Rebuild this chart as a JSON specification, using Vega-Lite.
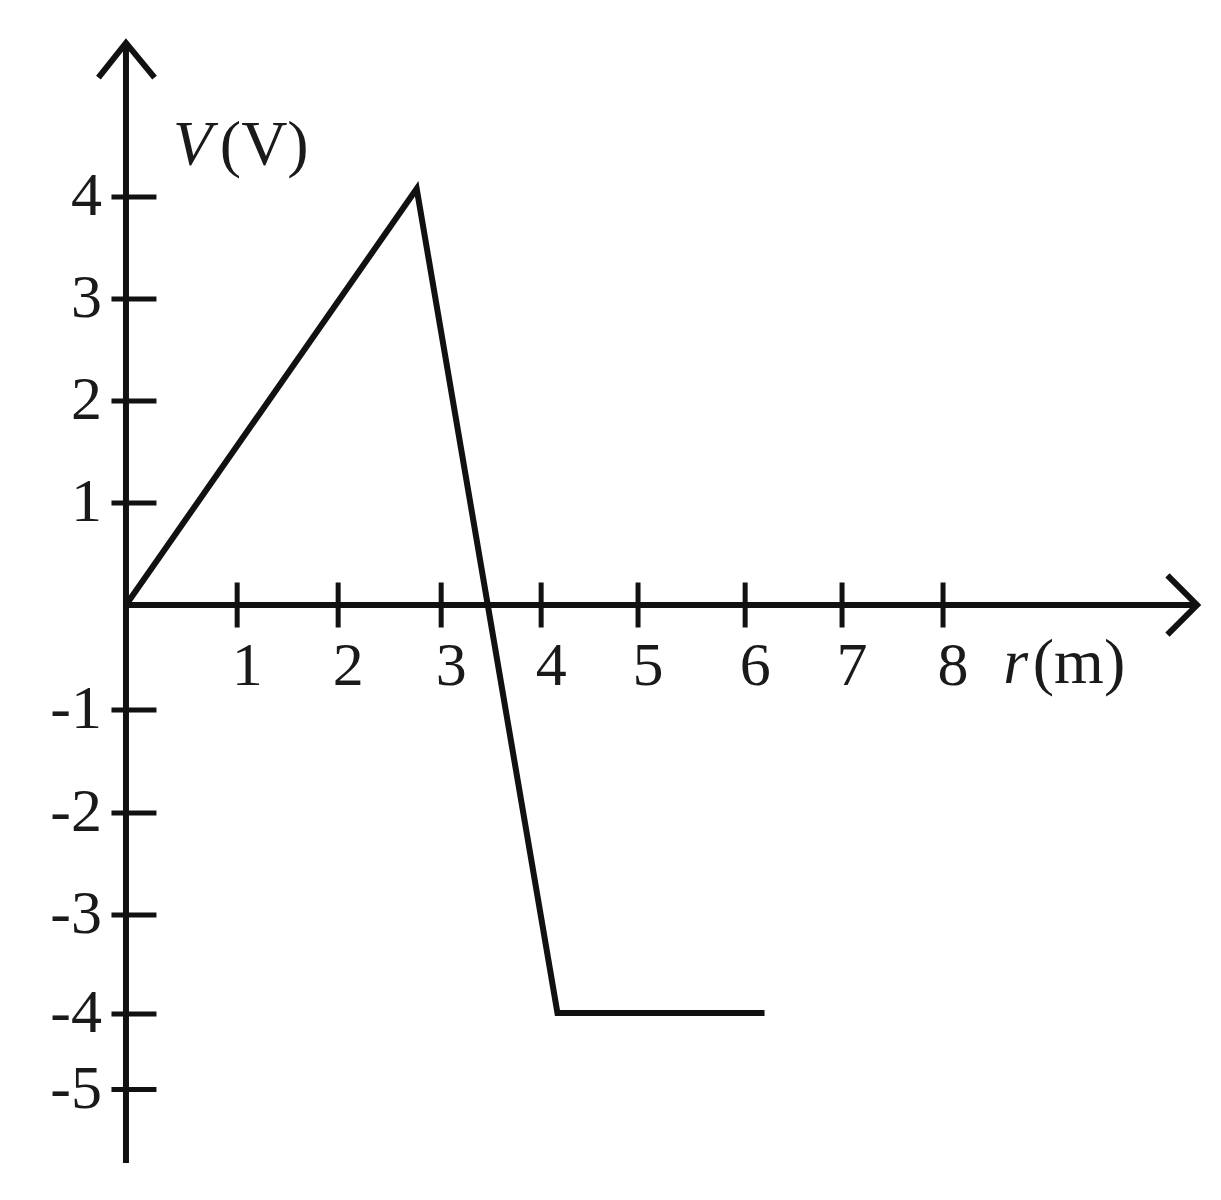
{
  "$schema": "https://vega.github.io/schema/vega-lite/v6.json",
  "width": 1221,
  "height": 1200,
  "padding": 0,
  "autosize": {"type": "fit", "contains": "padding"},
  "background": "white",
  "datasets": {
    "curve": [
      {"r": 0, "v": 0},
      {"r": 2.85, "v": 4.08},
      {"r": 4.23, "v": -4},
      {"r": 6.26, "v": -4}
    ],
    "axes": [
      {"r": 0, "v": 0, "r2": 10.5, "v2": 0},
      {"r": 0, "v": -5.47, "r2": 0, "v2": 5.51}
    ],
    "arrows": [
      {"id": "x", "o": 1, "r": 10.21, "v": 0.29},
      {"id": "x", "o": 2, "r": 10.5, "v": 0},
      {"id": "x", "o": 3, "r": 10.21, "v": -0.29},
      {"id": "y", "o": 1, "r": -0.27, "v": 5.17},
      {"id": "y", "o": 2, "r": 0, "v": 5.51},
      {"id": "y", "o": 3, "r": 0.28, "v": 5.17}
    ],
    "yticks": [
      {"r": 0, "v": 4, "label": "4"},
      {"r": 0, "v": 3, "label": "3"},
      {"r": 0, "v": 2, "label": "2"},
      {"r": 0, "v": 1, "label": "1"},
      {"r": 0, "v": -1.03, "label": "-1"},
      {"r": 0, "v": -2.04, "label": "-2"},
      {"r": 0, "v": -3.04, "label": "-3"},
      {"r": 0, "v": -4.01, "label": "-4"},
      {"r": 0, "v": -4.75, "label": "-5"}
    ],
    "xticks": [
      {"r": 1.09, "v": 0, "label": "1"},
      {"r": 2.08, "v": 0, "label": "2"},
      {"r": 3.09, "v": 0, "label": "3"},
      {"r": 4.07, "v": 0, "label": "4"},
      {"r": 5.02, "v": 0, "label": "5"},
      {"r": 6.07, "v": 0, "label": "6"},
      {"r": 7.02, "v": 0, "label": "7"},
      {"r": 8.01, "v": 0, "label": "8"}
    ]
  },
  "encoding": {
    "x": {"field": "r", "type": "quantitative", "axis": null,
      "scale": {"domain": [-1.235, 10.735], "nice": false, "zero": false}},
    "y": {"field": "v", "type": "quantitative", "axis": null,
      "scale": {"domain": [-5.833, 5.931], "nice": false, "zero": false}}
  },
  "layer": [
    {
      "data": {"name": "axes"},
      "mark": {"type": "rule", "color": "#111", "strokeWidth": 6},
      "encoding": {
        "x2": {"field": "r2"},
        "y2": {"field": "v2"}
      }
    },
    {
      "data": {"name": "arrows"},
      "mark": {"type": "line", "color": "#111", "strokeWidth": 6, "strokeJoin": "miter"},
      "encoding": {
        "detail": {"field": "id"},
        "order": {"field": "o"}
      }
    },
    {
      "data": {"name": "yticks"},
      "mark": {"type": "tick", "orient": "horizontal", "color": "#111",
        "size": 45, "thickness": 5, "xOffset": 8, "opacity": 1},
      "encoding": {}
    },
    {
      "data": {"name": "xticks"},
      "mark": {"type": "tick", "orient": "vertical", "color": "#111",
        "size": 45, "thickness": 5, "opacity": 1},
      "encoding": {}
    },
    {
      "data": {"name": "yticks"},
      "mark": {"type": "text", "font": "Liberation Serif", "fontSize": 62,
        "color": "#1a1a1a", "align": "right", "baseline": "alphabetic", "dx": -24, "dy": 18},
      "encoding": {"text": {"field": "label"}}
    },
    {
      "data": {"name": "xticks"},
      "mark": {"type": "text", "font": "Liberation Serif", "fontSize": 62,
        "color": "#1a1a1a", "align": "center", "baseline": "alphabetic", "dx": 10, "dy": 80},
      "encoding": {"text": {"field": "label"}}
    },
    {
      "data": {"values": [{"r": 0.46, "v": 4.31, "t": "V"}, {"r": 8.6, "v": -0.765, "t": "r"}]},
      "mark": {"type": "text", "font": "Liberation Serif", "fontSize": 64, "fontStyle": "italic",
        "color": "#1a1a1a", "align": "left", "baseline": "alphabetic"},
      "encoding": {"text": {"field": "t"}}
    },
    {
      "data": {"values": [{"r": 0.92, "v": 4.31, "t": "(V)"}, {"r": 8.89, "v": -0.765, "t": "(m)"}]},
      "mark": {"type": "text", "font": "Liberation Serif", "fontSize": 64,
        "color": "#1a1a1a", "align": "left", "baseline": "alphabetic"},
      "encoding": {"text": {"field": "t"}}
    },
    {
      "data": {"name": "curve"},
      "mark": {"type": "line", "color": "#111", "strokeWidth": 6, "strokeJoin": "miter"},
      "encoding": {}
    }
  ],
  "config": {
    "view": {"stroke": null}
  }
}
